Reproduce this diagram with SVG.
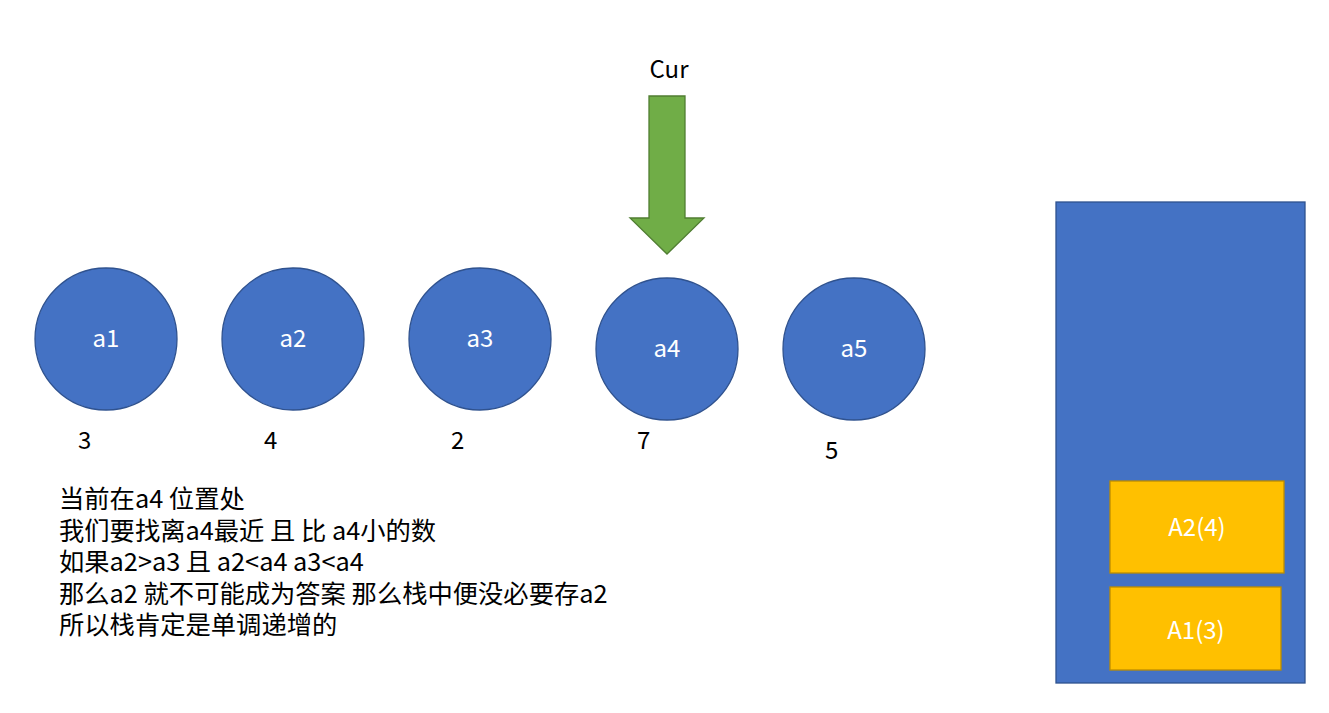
<svg xmlns="http://www.w3.org/2000/svg" width="1329" height="713" viewBox="0 0 1329 713">
<style>
.c{fill:#4472C4;stroke:#2F528F;stroke-width:1.3}
.w{fill:#fff;font-family:"Noto Sans CJK SC","Noto Sans",sans-serif;font-size:24px;text-anchor:middle}
.k{fill:#000;font-family:"Noto Sans CJK SC","Noto Sans",sans-serif;font-size:24px}
.t{fill:#000;font-family:"Noto Sans CJK SC","Noto Sans",sans-serif;font-size:25.3px}
.g{fill:#FFC000;stroke:#BC8C00;stroke-width:1.3}
</style>
<rect width="1329" height="713" fill="#fff"/>
<g id="cur">
<text class="k" x="669" y="78" text-anchor="middle">Cur</text>
<polygon points="649,96 685,96 685,218 704,218 667,254 630,218 649,218" fill="#70AD47" stroke="#507E32" stroke-width="1.3"/>
</g>
<g id="a1"><circle class="c" cx="106" cy="339" r="71"/><text class="w" x="106" y="347">a1</text></g>
<g id="a2"><circle class="c" cx="293" cy="339" r="71"/><text class="w" x="293" y="347">a2</text></g>
<g id="a3"><circle class="c" cx="480" cy="339" r="71"/><text class="w" x="480" y="347">a3</text></g>
<g id="a4"><circle class="c" cx="667" cy="349" r="71"/><text class="w" x="667" y="357">a4</text></g>
<g id="a5"><circle class="c" cx="854" cy="349" r="71"/><text class="w" x="854" y="357">a5</text></g>
<g id="values">
<text class="k" x="78" y="449">3</text>
<text class="k" x="264" y="449">4</text>
<text class="k" x="451" y="449">2</text>
<text class="k" x="637" y="449">7</text>
<text class="k" x="825" y="459">5</text>
</g>
<g id="note">
<text class="t" x="59" y="508">当前在a4 位置处</text>
<text class="t" x="59" y="540">我们要找离a4最近 且 比 a4小的数</text>
<text class="t" x="59" y="571">如果a2&gt;a3 且 a2&lt;a4 a3&lt;a4</text>
<text class="t" x="59" y="603">那么a2 就不可能成为答案 那么栈中便没必要存a2</text>
<text class="t" x="59" y="634">所以栈肯定是单调递增的</text>
</g>
<g id="stack">
<rect class="c" x="1056" y="202" width="249" height="481"/>
</g>
<g id="A2"><rect class="g" x="1110" y="481" width="174" height="92"/><text class="w" x="1197" y="536">A2(4)</text></g>
<g id="A1"><rect class="g" x="1110" y="587" width="171" height="83"/><text class="w" x="1196" y="639">A1(3)</text></g>
<g id="connectors"></g>
</svg>
